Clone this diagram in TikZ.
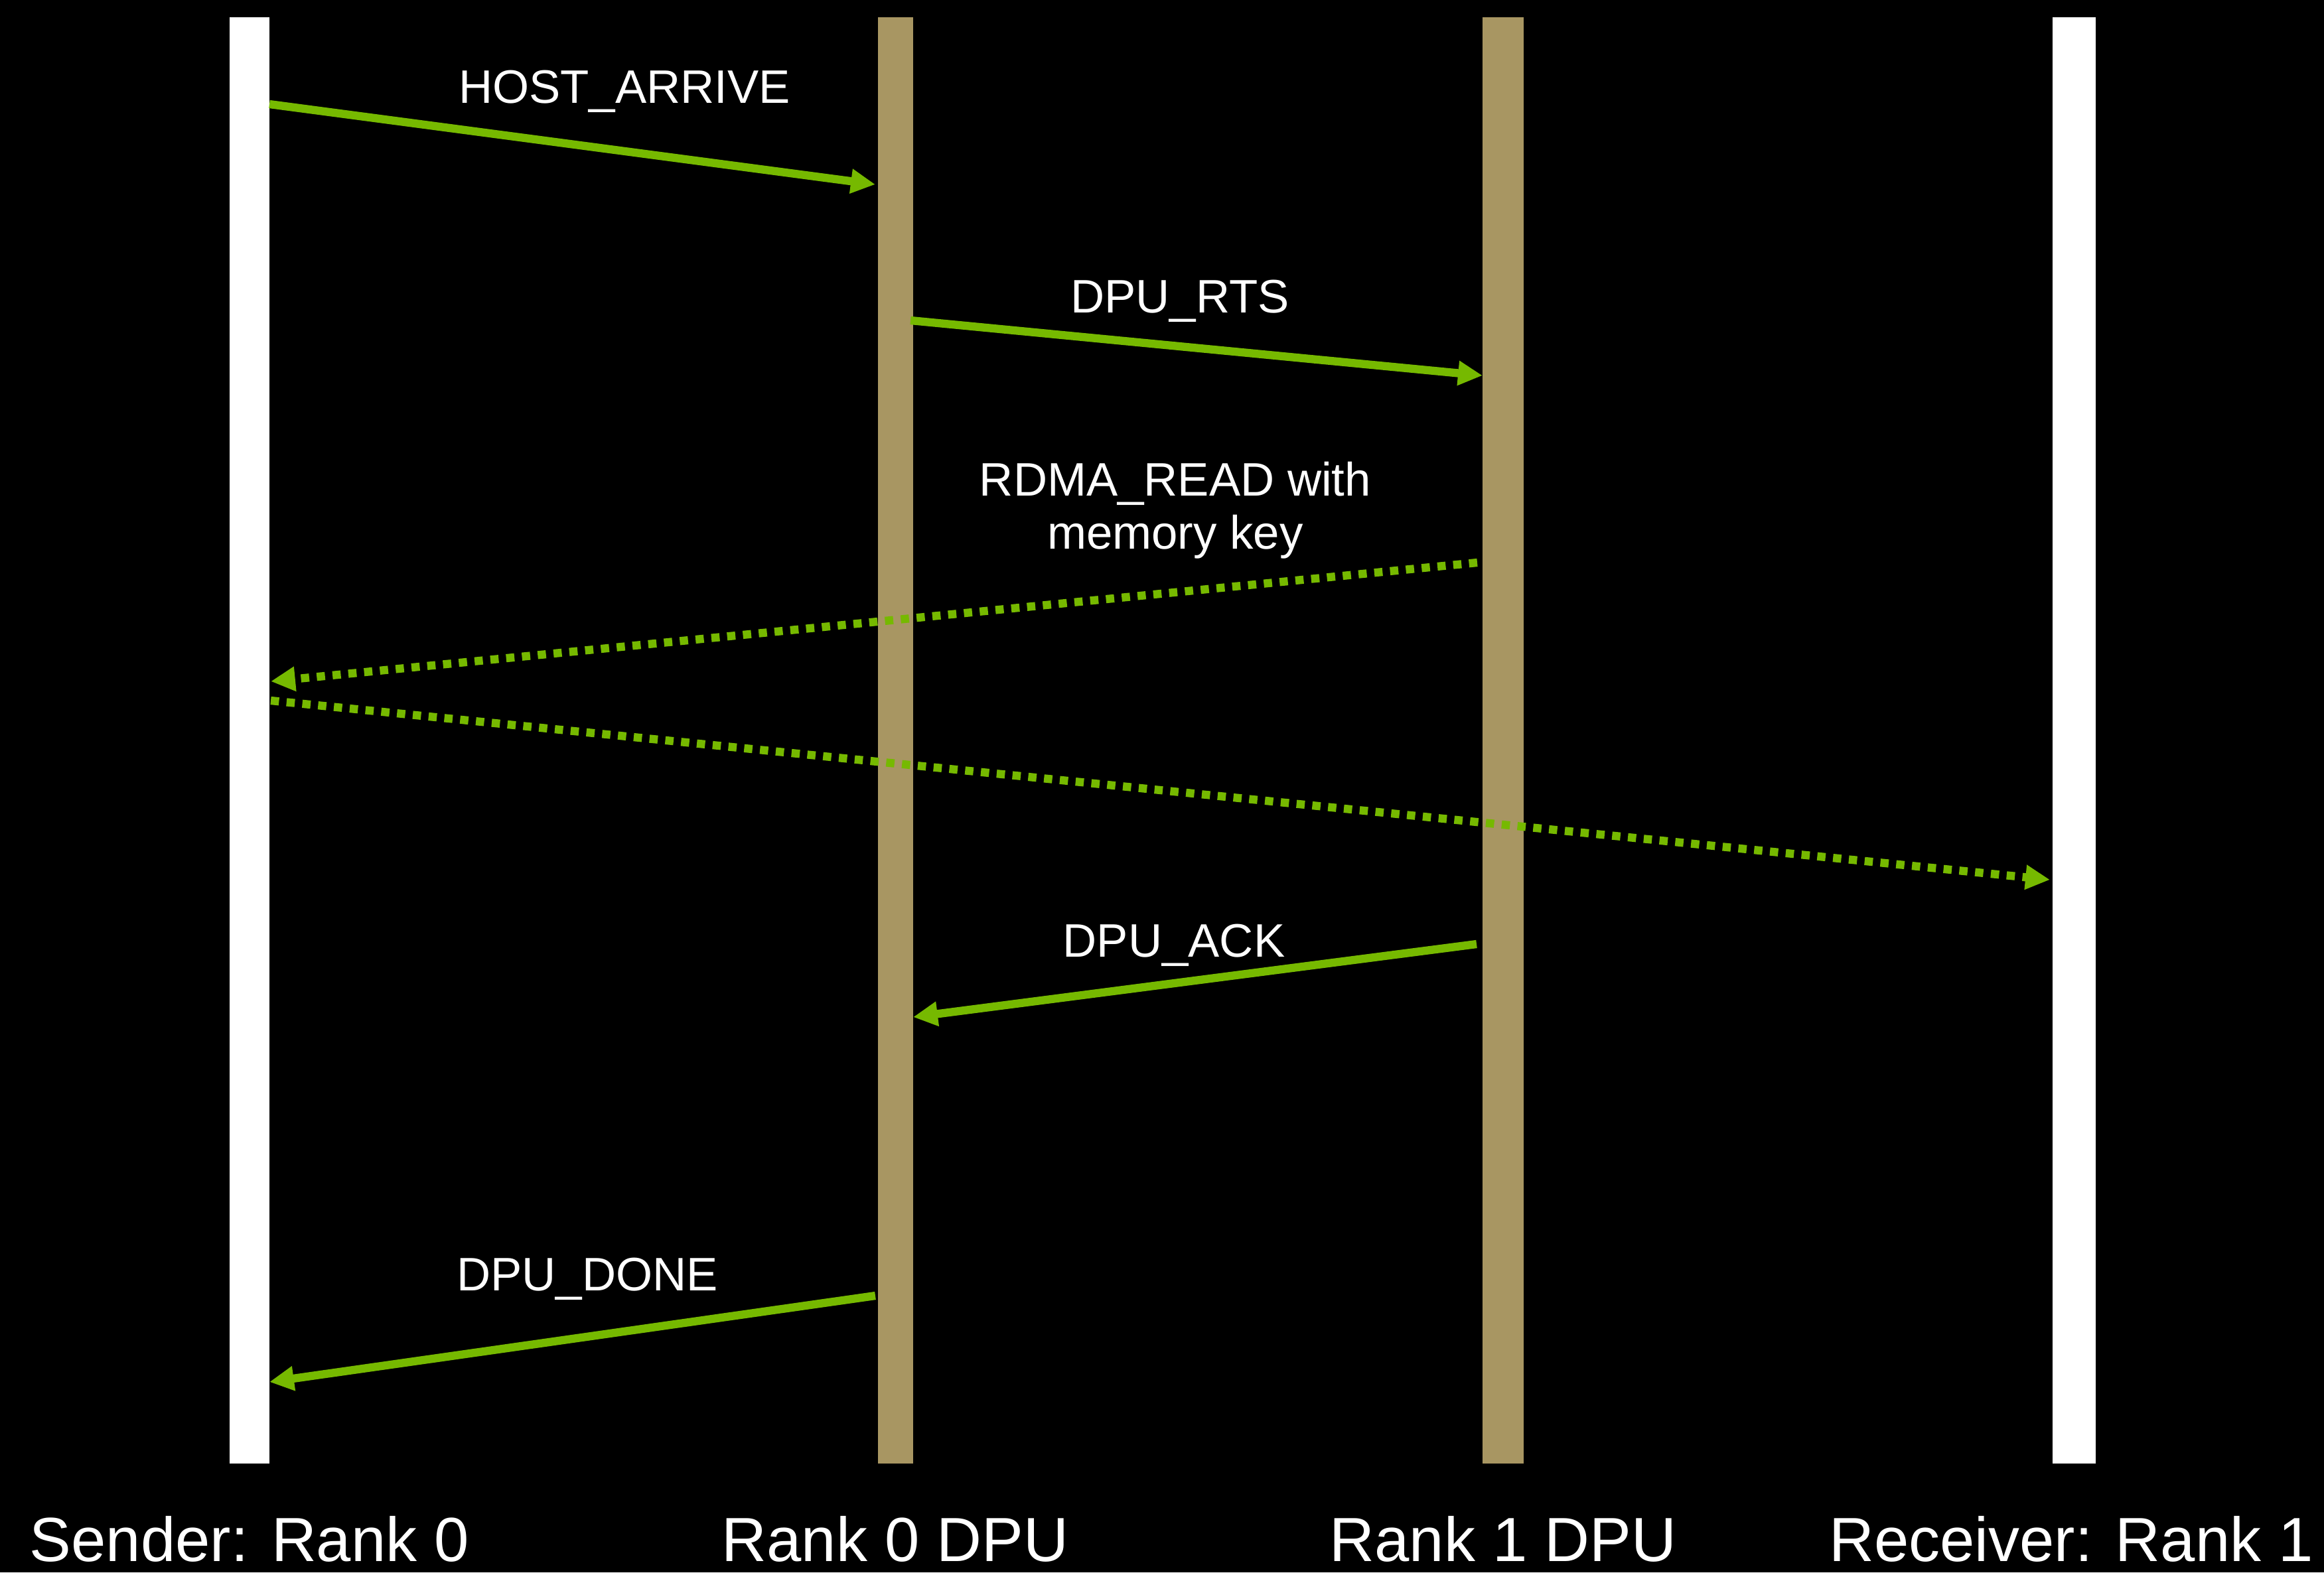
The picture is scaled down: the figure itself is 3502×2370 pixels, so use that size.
\documentclass[tikz,border=0pt]{standalone}
\usepackage{fontspec}
\setmainfont{Liberation Sans}
\usetikzlibrary{arrows.meta,calc}
\definecolor{msggreen}{RGB}{118,185,0}
\definecolor{dputan}{RGB}{168,150,98}
\begin{document}
\begin{tikzpicture}[x=0.2mm,y=-0.2mm,
  lane/.style={draw=none,inner sep=0pt,outer sep=0pt,minimum height=436mm,anchor=north west},
  hostlane/.style={lane,fill=white},
  dpulane/.style={lane,fill=dputan},
  msg/.style={draw=msggreen,line width=7pt,line cap=butt,
    -{Triangle[length=21pt,width=20pt]}},
  rdma/.style={msg,dash pattern=on 7.1pt off 6.5pt},
  lbl/.style={text=white,anchor=base,inner sep=0pt,font=\fontsize{40.3pt}{46pt}\selectfont},
  lanelbl/.style={text=white,anchor=base,inner sep=0pt,font=\fontsize{53.5pt}{60pt}\selectfont}]

% background
\fill[black] (0,0) rectangle (3502,2370);
\useasboundingbox (0,0) rectangle (3502,2370);

% lifelines
\node[hostlane,minimum width=12mm]   (snd) at (346,26)  {};
\node[dpulane, minimum width=10.6mm] (d0)  at (1323,26) {};
\node[dpulane, minimum width=12.4mm] (d1)  at (2234,26) {};
\node[hostlane,minimum width=13mm]   (rcv) at (3093,26) {};

% message end points
\coordinate (m1s) at (snd.east |- 0,157);
\coordinate (m1e) at ($(d0.west |- 0,278)+(-4,0)$);
\coordinate (m2s) at ($(d0.east |- 0,483)+(-4,0)$);
\coordinate (m2e) at (d1.west |- 0,566);
\coordinate (m3s) at ($(d1.west |- 0,848)+(-8,0)$);
\coordinate (m3e) at ($(snd.east |- 0,1027)+(2,0)$);
\coordinate (m4s) at ($(snd.east |- 0,1056)+(2,0)$);
\coordinate (m4e) at ($(rcv.west |- 0,1326)+(-4,0)$);
\coordinate (m5s) at ($(d1.west |- 0,1423)+(-9,0)$);
\coordinate (m5e) at (d0.east |- 0,1533);
\coordinate (m6s) at ($(d0.west |- 0,1953)+(-4,0)$);
\coordinate (m6e) at (snd.east |- 0,2083);

% messages
\draw[msg]  (m1s) -- (m1e);
\draw[msg]  (m2s) -- (m2e);
\draw[rdma] (m3s) -- (m3e);
\draw[rdma] (m4s) -- (m4e);
\draw[msg]  (m5s) -- (m5e);
\draw[msg]  (m6s) -- (m6e);

% message labels (the two-line label sits on its last baseline)
\node[lbl] (t1) at (941,155)  {HOST\_ARRIVE};
\node[lbl] (t2) at (1778,471) {DPU\_RTS};
\node[lbl,align=center] (t3) at (1771,827) {RDMA\_READ with\\[-0.5pt]memory key};
\node[lbl] (t5) at (1769,1442) {DPU\_ACK};
\node[lbl] (t6) at (885,1945)  {DPU\_DONE};

% lifeline labels
\node[lanelbl] (n1) at (376,2353)  {Sender: Rank 0};
\node[lanelbl] (n2) at (1349,2353) {Rank 0 DPU};
\node[lanelbl] (n3) at (2265,2353) {Rank 1 DPU};
\node[lanelbl] (n4) at (3121,2353) {Receiver: Rank 1};
\end{tikzpicture}
\end{document}
